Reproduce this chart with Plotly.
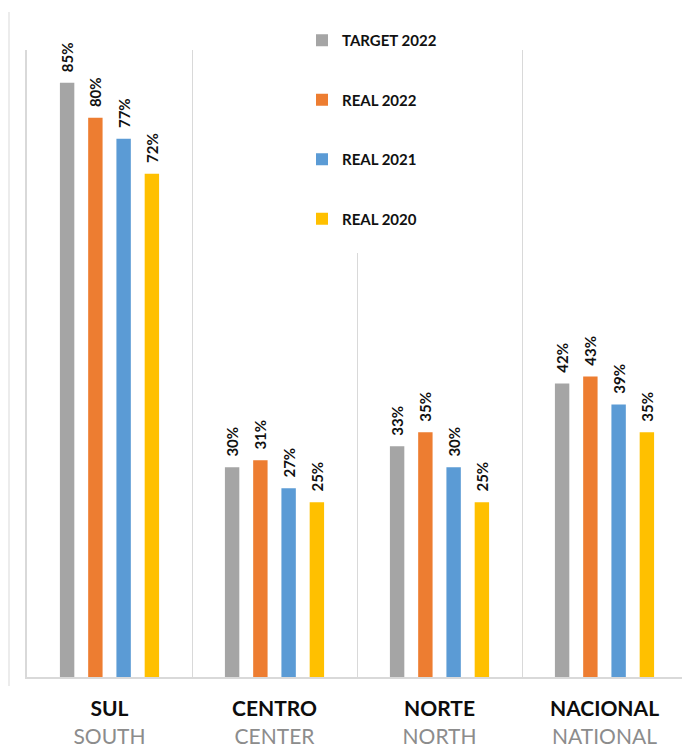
import plotly.graph_objects as go

# Regions (Portuguese / English) and series
regions_pt = ["SUL", "CENTRO", "NORTE", "NACIONAL"]
regions_en = ["SOUTH", "CENTER", "NORTH", "NATIONAL"]

series_names = ["TARGET 2022", "REAL 2022", "REAL 2021", "REAL 2020"]
target_2022 = [85, 30, 33, 42]
real_2022 = [80, 31, 35, 43]
real_2021 = [77, 27, 30, 39]
real_2020 = [72, 25, 25, 35]
series_colors = ["#A5A5A5", "#ED7D31", "#5B9BD5", "#FFC000"]

FONT = "Lato"
tick_text = [
    f"<b>{pt}</b><br><span style='color:#8C8C8C'>{en}</span>"
    for pt, en in zip(regions_pt, regions_en)
]

fig = go.Figure()
for i, (name, vals, col) in enumerate(
    zip(series_names, [target_2022, real_2022, real_2021, real_2020], series_colors)
):
    fig.add_trace(
        go.Bar(
            x=regions_pt,
            y=vals,
            name=name,
            legendgroup=f"g{i}",
            marker=dict(color=col, line=dict(width=0)),
            texttemplate="\u00a0\u00a0<b>%{y}%</b>",
            textposition="outside",
            textangle=-90,
            constraintext="none",
            textfont=dict(family=FONT, size=15, color="#111111"),
            cliponaxis=False,
        )
    )

W, H = 682, 751
ML, MR, MT, MB = 27, 0, 50, 74
pw = W - ML - MR
ph = H - MT - MB
BASE = H - MB  # pixel row of the baseline

LEG_BW = 18  # white legend border, hides the grid line behind it
fig.update_layout(
    width=W,
    height=H,
    margin=dict(l=ML, r=MR, t=MT, b=MB, autoexpand=False),
    paper_bgcolor="white",
    plot_bgcolor="white",
    barmode="group",
    bargap=0.315,
    bargroupgap=0.49,
    font=dict(family=FONT),
    showlegend=True,
    legend=dict(
        x=(302 - LEG_BW - ML) / pw,
        y=(BASE - (24 - LEG_BW)) / ph,
        xanchor="left",
        yanchor="top",
        bgcolor="white",
        bordercolor="white",
        borderwidth=LEG_BW,
        traceorder="grouped",
        tracegroupgap=37,
        font=dict(family=FONT, size=15, color="#111111", weight="bold"),
    ),
    xaxis=dict(
        range=[-0.5, 3.5 - 5 / 165],
        tickmode="array",
        tickvals=regions_pt,
        ticktext=tick_text,
        tickson="boundaries",
        showgrid=True,
        gridcolor="#D9D9D9",
        gridwidth=1,
        ticks="",
        showline=True,
        linecolor="#D9D9D9",
        linewidth=2,
        automargin=False,
        ticklabelstandoff=12,
        tickfont=dict(family=FONT, size=21, color="#0D0D0D"),
    ),
    yaxis=dict(
        range=[0, 89.7],
        showgrid=False,
        zeroline=False,
        showticklabels=False,
        showline=True,
        linecolor="#D9D9D9",
        linewidth=2,
        automargin=False,
    ),
    shapes=[
        dict(
            type="line",
            xref="paper",
            yref="paper",
            x0=(9 - ML) / pw,
            x1=(9 - ML) / pw,
            y0=(BASE - 12) / ph,
            y1=(BASE - 686) / ph,
            line=dict(color="#D9D9D9", width=1),
        )
    ],
)

fig.write_html("out.html")
